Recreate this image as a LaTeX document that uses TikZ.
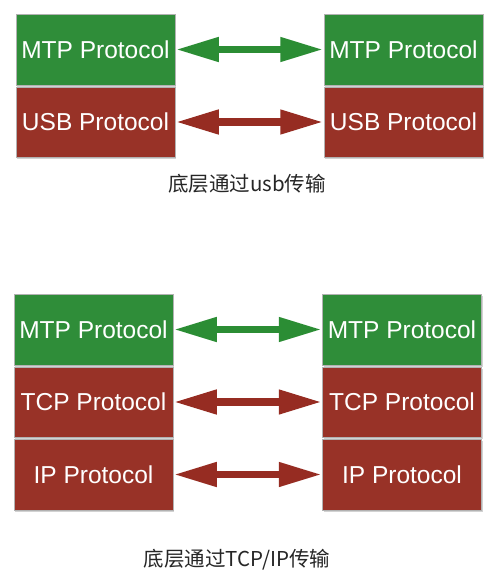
\documentclass[tikz,border=0pt]{standalone}
\usepackage{fontspec}
\setmainfont{Liberation Sans}
\newfontfamily\cjk{Noto Sans CJK SC}
\usetikzlibrary{arrows.meta,shadows}
\definecolor{boxgreen}{RGB}{47,141,57}
\definecolor{boxred}{RGB}{152,50,39}
\definecolor{arrgreen}{RGB}{43,141,52}
\definecolor{arrred}{RGB}{150,44,34}
\tikzset{
  layer/.style={draw=black!30, line width=0.5pt, minimum width=159pt, minimum height=71pt,
    inner sep=0pt, text=white, font=\fontsize{24.5}{28}\selectfont,
    drop shadow={opacity=0.35, shadow xshift=1pt, shadow yshift=-1.5pt}},
  greenlayer/.style={layer, fill=boxgreen},
  redlayer/.style={layer, fill=boxred},
  biarrow/.style={line width=7.5pt, {Triangle[length=43pt,width=23pt]}-{Triangle[length=43pt,width=23pt]}, shorten <=0.5pt, shorten >=0.5pt},
  caption/.style={font=\cjk\fontsize{20.5}{24}\selectfont, text=black!85}
}
\begin{document}
\begin{tikzpicture}[x=1pt,y=-1pt]
\useasboundingbox[fill=white] (0,0) rectangle (500,584);
% top group
\node[greenlayer] (l1) at (95.5,49.5) {MTP Protocol};
\node[redlayer, minimum height=70pt] (l2) at (95.5,122) {USB Protocol};
\node[greenlayer] (r1) at (403.5,49.5) {MTP Protocol};
\node[redlayer, minimum height=70pt] (r2) at (403.5,122) {USB Protocol};
\draw[biarrow, arrgreen] (l1.east) -- (r1.west);
\draw[biarrow, arrred] (l2.east) -- (r2.west);
\node[caption] (c1) at (247,184) {底层通过usb传输};
% bottom group
\node[greenlayer] (bl1) at (93.5,329.5) {MTP Protocol};
\node[redlayer, minimum height=70pt] (bl2) at (93.5,402) {TCP Protocol};
\node[redlayer] (bl3) at (93.5,474.5) {IP Protocol};
\node[greenlayer] (br1) at (402,329.5) {MTP Protocol};
\node[redlayer, minimum height=70pt] (br2) at (402,402) {TCP Protocol};
\node[redlayer] (br3) at (402,474.5) {IP Protocol};
\draw[biarrow, arrgreen] (bl1.east) -- (br1.west);
\draw[biarrow, arrred] (bl2.east) -- (br2.west);
\draw[biarrow, arrred] (bl3.east) -- (br3.west);
\node[caption] (c2) at (237,560) {底层通过TCP/IP传输};
\end{tikzpicture}
\end{document}
